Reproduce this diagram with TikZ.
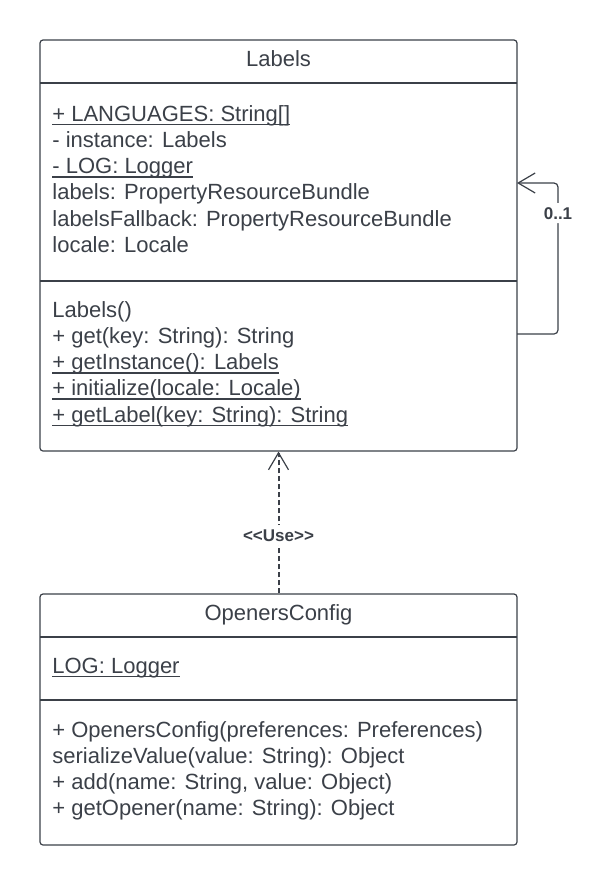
\documentclass[tikz,border=0pt]{standalone}
\usepackage{fontspec}
\setmainfont{Liberation Sans}
\usetikzlibrary{arrows.meta,fit}

\newsavebox\ulbox
\newcommand\umlul[1]{\sbox\ulbox{#1}\rlap{\rule[-2pt]{\wd\ulbox}{0.65pt}}\usebox\ulbox}
\definecolor{umlline}{HTML}{3B4048}

\tikzset{
  umlbox/.style={draw=umlline, line width=0.6pt, rounded corners=1.5pt, inner sep=0pt},
  umlrule/.style={draw=umlline, line width=0.6pt},
  umltitle/.style={anchor=base, inner sep=0pt, text=umlline, font=\fontsize{11}{13}\selectfont},
  umltxt/.style={anchor=base west, inner sep=0pt, text=umlline, font=\fontsize{11}{13}\selectfont},
  umlmult/.style={fill=white, inner sep=2pt, text=umlline, font=\fontsize{8.5}{10}\selectfont\bfseries},
  umlassoc/.style={draw=umlline, line width=0.6pt, -{Straight Barb[length=8.5pt, width=10pt, line width=0.6pt]}},
  umluse/.style={umlassoc, line width=1pt, dash pattern=on 2.5pt off 1.5pt}
}

\begin{document}
\begin{tikzpicture}[x=0.5pt, y=-0.5pt]

  \useasboundingbox (0,0) rectangle (613,885);

  \newcommand\Lft{52};
  \newcommand\Stp{26.25};

  %% class Labels
  \node[umlbox, fit={(40,40) (517,451)}] (labels) {};
  \draw[umlrule] (40,83) -- (517,83);
  \draw[umlrule] (40,281) -- (517,281);
  \node[umltitle] (labelsT) at (278.5,66) {Labels};

  \foreach \txt [count=\i from 0] in {{\umlul{+ LANGUAGES: String[]}}, {- instance: Labels},
      {\umlul{- LOG: Logger}}, {labels: PropertyResourceBundle},
      {labelsFallback: PropertyResourceBundle}, {locale: Locale}}
    \node[umltxt] (labelsA\i) at (\Lft, {121+\Stp*\i}) {\txt};

  \foreach \txt [count=\i from 0] in {{Labels()}, {+ get(key: String): String},
      {\umlul{+ getInstance(): Labels}}, {\umlul{+ initialize(locale: Locale)}},
      {\umlul{+ getLabel(key: String): String}}}
    \node[umltxt] (labelsM\i) at (\Lft, {317+\Stp*\i}) {\txt};

  %% class OpenersConfig
  \node[umlbox, fit={(40,594) (517,845)}] (openers) {};
  \draw[umlrule] (40,637) -- (517,637);
  \draw[umlrule] (40,700) -- (517,700);
  \node[umltitle] (openersT) at (278.5,620) {OpenersConfig};

  \node[umltxt] (openersA0) at (\Lft, 673) {\umlul{LOG: Logger}};

  \foreach \txt [count=\i from 0] in {{+ OpenersConfig(preferences: Preferences)},
      {serializeValue(value: String): Object}, {+ add(name: String, value: Object)},
      {+ getOpener(name: String): Object}}
    \node[umltxt] (openersM\i) at (\Lft, {737+\Stp*\i}) {\txt};

  %% self association
  \coordinate (selfout) at (517,334);
  \coordinate (selfin) at (517,183);
  \draw[umlassoc, rounded corners=2pt] (selfout) -- (558,334) |- node[pos=0.4, umlmult]{0..1} (selfin);

  %% dependency
  \draw[umluse] (openers.north) -- node[pos=0.41, umlmult]{<\kern0pt<Use>\kern0pt>} (labels.south);

\end{tikzpicture}
\end{document}
